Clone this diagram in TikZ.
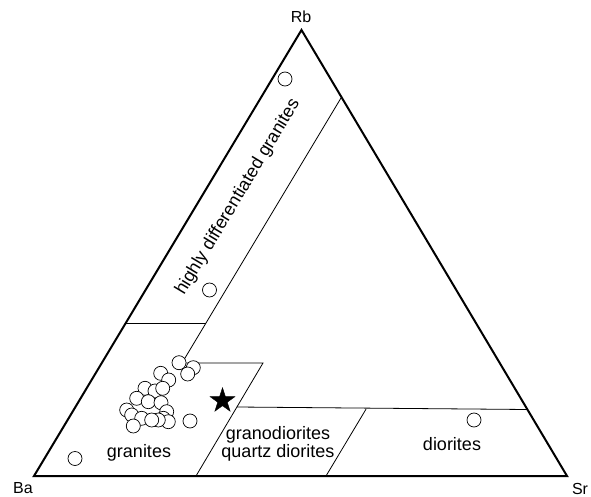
\documentclass[tikz,border=0pt]{standalone}
\usepackage{fontspec}
\setmainfont{Liberation Sans}
\usetikzlibrary{shapes.geometric}
\begin{document}
\begin{tikzpicture}[x=1pt,y=-1pt,
  sample/.style={draw,circle,fill=white,minimum size=14pt,inner sep=0pt,line width=0.7pt},
  field/.style={font=\fontsize{18}{12.5}\selectfont,inner sep=0pt,align=center},
  apex/.style={font=\fontsize{16}{16}\selectfont,inner sep=0pt}]
\useasboundingbox (0,0) rectangle (591,497);
\coordinate (Ba) at (34,476);
\coordinate (Sr) at (567,476);
\coordinate (Rb) at (301.5,30);
\coordinate (a1) at (126,323);
\coordinate (a2) at (206,323);
\coordinate (b1) at (341,98);
\coordinate (b2) at (182,363);
\coordinate (b3) at (263,363);
\coordinate (b4) at (196,476);
\coordinate (c1) at (237,407);
\coordinate (c2) at (527.4,409.5);
\coordinate (d1) at (366,409.2);
\coordinate (d2) at (326,476);
\node[apex] (lRb) at (301,17) {Rb};
\node[apex] (lBa) at (23,488) {Ba};
\node[apex] (lSr) at (580,488.5) {Sr};
\path[draw,line width=0.8pt] (a1) -- (a2);
\path[draw,line width=0.8pt] (b1) -- (b2) -- (b3) -- (b4);
\path[draw,line width=0.8pt] (c1) -- (c2);
\path[draw,line width=0.8pt] (d1) -- (d2);
\path[draw,line width=2pt,line join=miter] (Ba) -- (Sr) -- (Rb) -- cycle;
\node[field,rotate=59] (hdg) at (238,197) {highly differentiated granites};
\node[field] (gr) at (139,453) {granites};
\node[field] (gqd) at (278,443.5) {granodiorites\\quartz diorites};
\node[field] (dio) at (452,444) {diorites};
% samples
\node[sample] (p1) at (285,79) {};
\node[sample] (p2) at (209.5,290) {};
\node[sample] (p3) at (75,458.5) {};
\node[sample] (p4) at (190,421) {};
\node[sample] (p5) at (474,420) {};
\node[sample] (q1) at (179,362.7) {};
\node[sample] (q2) at (193.3,367.7) {};
\node[sample] (q3) at (187.7,374) {};
\node[sample] (q4) at (160.7,373.3) {};
\node[sample] (q5) at (168.7,380) {};
\node[sample] (q6) at (145,388.3) {};
\node[sample] (q7) at (155,391) {};
\node[sample] (q8) at (162.7,388.3) {};
\node[sample] (q9) at (136.7,398.3) {};
\node[sample] (q10) at (148.3,401.7) {};
\node[sample] (q11) at (161,402.7) {};
\node[sample] (q12) at (126.7,410) {};
\node[sample] (q13) at (131.7,415) {};
\node[sample] (q14) at (141.7,418.3) {};
\node[sample] (q15) at (166.7,411.7) {};
\node[sample] (q16) at (163.3,418.3) {};
\node[sample] (q17) at (168.3,421.7) {};
\node[sample] (q18) at (158.3,420) {};
\node[sample] (q19) at (151.7,420) {};
\node[sample] (q20) at (133.3,426) {};
\node[star,star points=5,star point ratio=2.6,draw,fill=black,minimum size=26pt,inner sep=0pt] (st) at (222.5,400.7) {};
\end{tikzpicture}
\end{document}
